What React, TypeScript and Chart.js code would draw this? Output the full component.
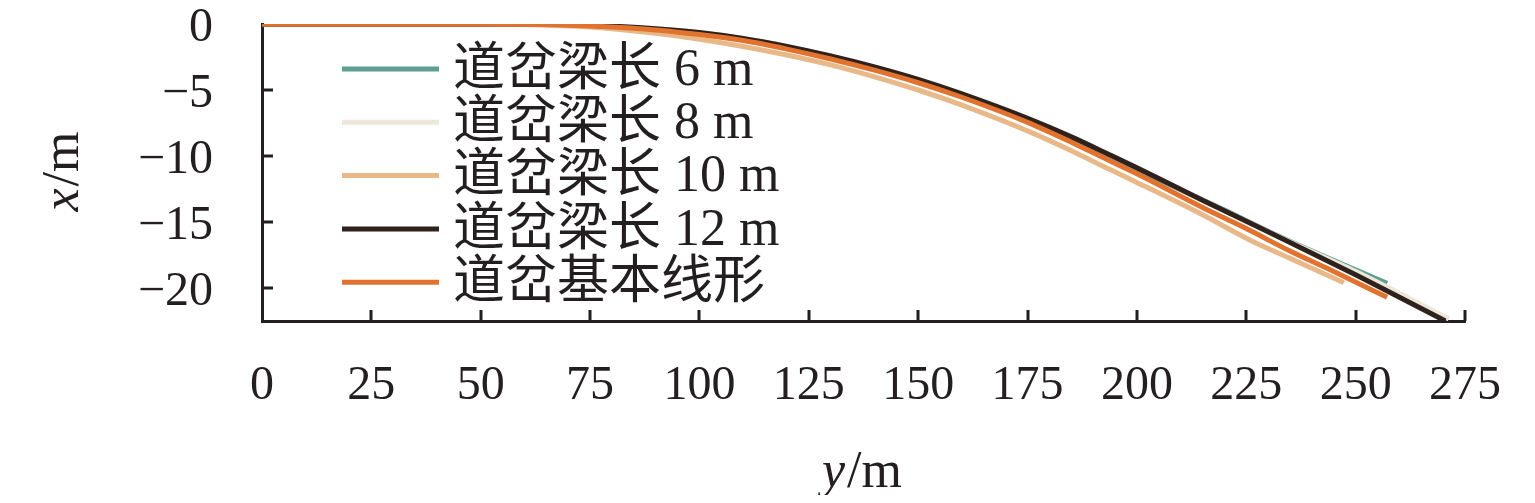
import React, { useEffect, useRef } from "react";
import { Chart, registerables } from "chart.js";

Chart.register(...registerables);

// ---- tick values ----
const xTickValues = [0, 25, 50, 75, 100, 125, 150, 175, 200, 225, 250, 275];
const yTickValues = [0, -5, -10, -15, -20];

// ---- series labels ----
const seriesLabels = ["道岔梁长 6 m", "道岔梁长 8 m", "道岔梁长 10 m", "道岔梁长 12 m", "道岔基本线形"];

// ---- series values (y position along track -> x offset) ----
const beam6X = [0, 25, 50, 75, 100, 120, 130, 140, 150, 160, 175, 185, 194, 200, 210, 220, 230, 240, 247, 257.2];
const beam6Y = [0, 0, 0, -0.12, -0.72, -1.8, -2.5, -3.3, -4.3, -5.4, -7.3, -8.75, -10.15, -11.05, -12.55, -14.1, -15.7, -17.2, -18.2, -19.65];

const beam8X = [0, 25, 50, 60, 75, 90, 100, 110, 120, 130, 140, 150, 160, 175, 185, 194, 200, 215, 225, 235, 250, 260, 271.3];
const beam8Y = [0, 0, 0, 0, -0.1, -0.35, -0.65, -1.1, -1.7, -2.42, -3.25, -4.2, -5.3, -7.15, -8.55, -9.95, -10.9, -13.35, -14.95, -16.5, -18.75, -20.4, -22.35];

const beam10X = [0, 25, 50, 60, 75, 90, 100, 110, 120, 130, 140, 150, 160, 175, 185, 194, 200, 215, 226, 235, 240, 247.3];
const beam10Y = [0, 0, 0, -0.03, -0.22, -0.7, -1.15, -1.7, -2.35, -3.1, -4.0, -5.0, -6.15, -8.1, -9.6, -11.05, -12.0, -14.45, -16.4, -17.75, -18.5, -19.6];

const beam12X = [0, 25, 50, 60, 75, 90, 100, 110, 120, 130, 140, 150, 160, 175, 185, 194, 200, 215, 225, 235, 250, 260, 270.5];
const beam12Y = [0, 0, 0, 0, -0.1, -0.35, -0.65, -1.1, -1.7, -2.42, -3.25, -4.2, -5.3, -7.15, -8.55, -9.95, -10.9, -13.35, -14.95, -16.55, -19.0, -20.7, -22.5];

const baseX = [0, 25, 50, 60, 75, 90, 100, 110, 120, 130, 140, 150, 160, 175, 185, 194, 200, 215, 225, 235, 245, 257.2];
const baseY = [0, 0, 0, -0.02, -0.15, -0.45, -0.8, -1.25, -1.9, -2.65, -3.5, -4.45, -5.55, -7.45, -8.95, -10.4, -11.35, -13.9, -15.5, -17.2, -18.75, -20.7];

// ---- styles ----
const seriesColors = ["#5e9f93", "#ece7d8", "#e8b888", "#2f221d", "#e2732f"];
const drawOrder = [4, 3, 2, 1, 0]; // lower = drawn on top
const inkColor = "#231f20";
const serif = '"Liberation Serif", "Times New Roman", "Noto Sans CJK SC", serif';
const legendFont = '52px "Liberation Serif", "Noto Sans CJK SC", serif';

const toPoints = (xs: number[], ys: number[]) => xs.map((x, i) => ({ x, y: ys[i] }));

const decorPlugin = {
  id: "decor",
  afterDraw(chart: any) {
    const ctx = chart.ctx as CanvasRenderingContext2D;
    const area = chart.chartArea;
    const xs = chart.scales.x;
    const ys = chart.scales.y;
    ctx.save();
    // inward tick marks
    ctx.strokeStyle = inkColor;
    ctx.lineWidth = 3;
    ctx.beginPath();
    xTickValues.forEach((v) => {
      if (v === 0) return;
      const px = Math.round(xs.getPixelForValue(v));
      ctx.moveTo(px, area.bottom);
      ctx.lineTo(px, area.bottom - 11);
    });
    yTickValues.forEach((v) => {
      if (v === 0) return;
      const py = Math.round(ys.getPixelForValue(v));
      ctx.moveTo(area.left, py);
      ctx.lineTo(area.left + 11, py);
    });
    ctx.stroke();

    // legend
    const lx0 = 334;
    const lx1 = 431;
    const ly0 = 61;
    const lstep = 53.3;
    chart.data.datasets.forEach((ds: any, i: number) => {
      const y = ly0 + i * lstep;
      ctx.strokeStyle = ds.borderColor;
      ctx.lineWidth = 5;
      ctx.beginPath();
      ctx.moveTo(lx0, y);
      ctx.lineTo(lx1, y);
      ctx.stroke();
      ctx.fillStyle = inkColor;
      ctx.font = legendFont;
      ctx.textAlign = "left";
      ctx.textBaseline = "middle";
      ctx.fillText(ds.label, 445, y + 2);
    });

    // axis titles with italic variable
    const drawTitle = (italicPart: string, rest: string, cx: number, baseY: number, rotate: boolean) => {
      ctx.save();
      const itFont = `italic 52px ${serif}`;
      const upFont = `52px ${serif}`;
      ctx.font = itFont;
      const w1 = ctx.measureText(italicPart).width;
      ctx.font = upFont;
      const w2 = ctx.measureText(rest).width;
      const total = w1 + w2;
      ctx.fillStyle = inkColor;
      ctx.textBaseline = "alphabetic";
      ctx.textAlign = "left";
      if (rotate) {
        ctx.translate(baseY, cx);
        ctx.rotate(-Math.PI / 2);
        ctx.font = itFont;
        ctx.fillText(italicPart, -total / 2, 0);
        ctx.font = upFont;
        ctx.fillText(rest, -total / 2 + w1 + 2, 0);
      } else {
        ctx.font = itFont;
        ctx.fillText(italicPart, cx - total / 2, baseY);
        ctx.font = upFont;
        ctx.fillText(rest, cx - total / 2 + w1 + 2, baseY);
      }
      ctx.restore();
    };
    drawTitle("y", "/m", 853, 479, false);
    drawTitle("x", "/m", (area.top + area.bottom) / 2, 70, true);
    ctx.restore();
  },
};

export default function App() {
  const canvasRef = useRef<HTMLCanvasElement | null>(null);

  useEffect(() => {
    if (!canvasRef.current) return;
    const seriesX = [beam6X, beam8X, beam10X, beam12X, baseX];
    const seriesY = [beam6Y, beam8Y, beam10Y, beam12Y, baseY];
    const chart = new Chart(canvasRef.current, {
      type: "line",
      data: {
        datasets: seriesLabels.map((label, i) => ({
          label,
          data: toPoints(seriesX[i], seriesY[i]),
          borderColor: seriesColors[i],
          backgroundColor: seriesColors[i],
          borderWidth: 5,
          pointRadius: 0,
          fill: false,
          cubicInterpolationMode: "monotone" as const,
          order: drawOrder[i],
          borderCapStyle: "butt" as const,
        })),
      },
      options: {
        responsive: false,
        animation: false,
        devicePixelRatio: 1,
        layout: { padding: { top: 16, right: 62, left: 0, bottom: 0 } },
        plugins: { legend: { display: false }, tooltip: { enabled: false }, title: { display: false } },
        scales: {
          x: {
            type: "linear",
            min: 0,
            max: 275,
            afterBuildTicks: (s: any) => {
              s.ticks = xTickValues.map((v) => ({ value: v }));
            },
            afterFit: (s: any) => {
              s.height = 174;
              s.paddingLeft = 0;
              s.paddingRight = 0;
            },
            grid: { display: false, drawTicks: false },
            border: { display: true, color: inkColor, width: 3 },
            ticks: {
              autoSkip: false,
              maxRotation: 0,
              padding: 41,
              color: inkColor,
              font: { family: serif, size: 48, lineHeight: 1 },
              callback: (v: any) => String(v),
            },
          },
          y: {
            type: "linear",
            min: -22.5,
            max: 0,
            afterBuildTicks: (s: any) => {
              s.ticks = yTickValues.map((v) => ({ value: v }));
            },
            afterFit: (s: any) => {
              s.width = 254;
              s.paddingTop = 0;
              s.paddingBottom = 0;
            },
            grid: { display: false, drawTicks: false },
            border: { display: true, color: inkColor, width: 3 },
            ticks: {
              autoSkip: false,
              padding: 49,
              labelOffset: 4,
              color: inkColor,
              font: { family: serif, size: 48, lineHeight: 1 },
              callback: (v: any) => String(v).replace("-", "\u2212"),
            },
          },
        },
      },
      plugins: [decorPlugin],
    });
    return () => chart.destroy();
  }, []);

  return (
    <div style={{ width: 1519, height: 487 }}>
      <canvas ref={canvasRef} width={1519} height={487} />
    </div>
  );
}
